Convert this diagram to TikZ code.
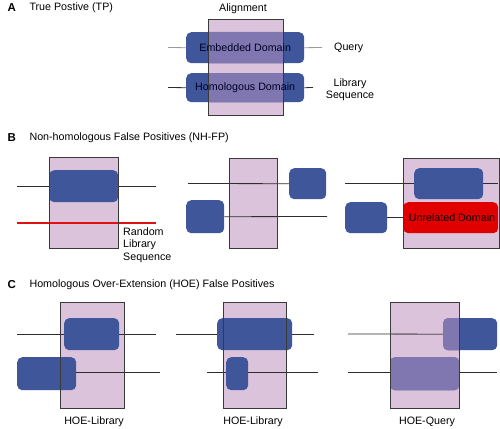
\documentclass[tikz,border=0pt]{standalone}
\usepackage{fontspec}
\setmainfont{Liberation Sans}
\definecolor{domblue}{HTML}{3F569B}
\definecolor{alnpink}{HTML}{DCC3DC}
\definecolor{mixpurple}{HTML}{8077B0}
\definecolor{domred}{HTML}{E00000}
\definecolor{randred}{HTML}{E01010}
\definecolor{bordergray}{HTML}{3A3A3A}
\definecolor{seqdark}{HTML}{2E2E2E}
\definecolor{seqlight}{HTML}{9A9A9A}
\definecolor{seqmix}{HTML}{8E7A8E}
\begin{document}
\begin{tikzpicture}[x=1pt,y=-1pt,
  font=\fontsize{10.7}{13}\selectfont,
  dom/.style={fill=domblue, rounded corners=5pt, inner sep=0pt, anchor=north west, draw=none},
  redbox/.style={fill=domred, rounded corners=5pt, inner sep=0pt, anchor=north west, draw=none},
  aln/.style={fill=alnpink, inner sep=0pt, anchor=north west, draw=none},
  border/.style={draw=bordergray, line width=0.8pt},
  seq/.style={draw=seqdark, line width=0.8pt},
  randseq/.style={fill=randred},
  head/.style={font=\fontsize{11.5}{13}\selectfont\bfseries, anchor=west},
  title/.style={anchor=west},
  lbl/.style={anchor=center}
]
\useasboundingbox[fill=white] (0,0) rectangle (500,428);

% ---------------- Panel A ----------------
\node[head] (hA) at (4,8) {A};
\node[title] (tA) at (26,8) {True Postive (TP)};
\node[aln, minimum width=75pt, minimum height=96pt] (rA) at (208,19) {};
\node[lbl] (alnA) at (243,9) {Alignment};
\coordinate (qAl) at (168,47.5);
\coordinate (qAr) at (322,47.5);
\coordinate (lAl) at (168,87.5);
\coordinate (lAr) at (313,87.5);
\node[dom, minimum width=118pt, minimum height=31pt] (eA) at (186,32) {};
\node[dom, minimum width=118pt, minimum height=29pt] (oA) at (186,73) {};
\draw[seq, draw=seqlight] (qAl) -- (eA.west);
\draw[seq, draw=seqlight] (eA.east) -- (qAr);
\draw[seq] (lAl) -- (oA.west);
\draw[seq] (oA.east) -- (lAr);
\begin{scope}
  \clip (rA.north west) rectangle (rA.south east);
  \fill[mixpurple, rounded corners=5pt] (eA.north west) rectangle (eA.south east);
  \fill[mixpurple, rounded corners=5pt] (oA.north west) rectangle (oA.south east);
\end{scope}
\draw[border] (rA.north west) rectangle (rA.south east);
\node[lbl, text=black!85!blue] (eAt) at (eA.center) {Embedded Domain};
\node[lbl, text=black!85!blue] (oAt) at (oA.center) {Homologous Domain};
\node[anchor=west, inner sep=0pt] (query) at (334,48) {Query};
\node[align=center, inner sep=0pt, font=\fontsize{10.7}{12}\selectfont] (libA) at (350,90) {Library\\Sequence};

% ---------------- Panel B ----------------
\node[head] (hB) at (4,138) {B};
\node[title] (tB) at (26,138) {Non-homologous False Positives (NH-FP)};

% B1
\node[aln, minimum width=69pt, minimum height=91pt] (rB1) at (49,157) {};
\coordinate (b1l) at (17,186);
\coordinate (b1r) at (156,186);
\coordinate (b1rl) at (17,223);
\coordinate (b1rr) at (156,223);
\draw[seq] (b1l) -- (b1r);
\node[dom, minimum width=69pt, minimum height=32pt] (bB1) at (49,170) {};
\fill[randseq] ([yshift=0.6pt]b1rl) rectangle ([yshift=-0.6pt]b1rr);
\draw[border] (rB1.north west) rectangle (rB1.south east);
\node[anchor=west, align=left, inner sep=0pt, font=\fontsize{10.7}{12.7}\selectfont] (randB) at (123,245) {Random\\Library\\Sequence};

% B2
\node[aln, minimum width=48pt, minimum height=90pt] (rB2) at (229,158) {};
\coordinate (b2tl) at (188,183.5);
\coordinate (b2br) at (327,216.5);
\node[dom, minimum width=37pt, minimum height=31pt] (tB2) at (289,168) {};
\node[dom, minimum width=38pt, minimum height=33pt] (bB2) at (186,200) {};
\draw[seq] (b2tl) -- (tB2.west);
\draw[seq] (bB2.east) -- (b2br);
\draw[border] (rB2.north west) rectangle (rB2.south east);

% B3
\node[aln, minimum width=96pt, minimum height=90pt] (rB3) at (403,158) {};
\coordinate (b3tl) at (345,183.5);
\coordinate (b3tr) at (498,183.5);
\draw[seq] (b3tl) -- (b3tr);
\node[dom, minimum width=69pt, minimum height=31pt] (tB3) at (414,168) {};
\node[dom, minimum width=42pt, minimum height=31pt] (bB3) at (345,202) {};
\node[redbox, minimum width=95pt, minimum height=31pt] (uB3) at (403,202) {};
\draw[seq] (bB3.east) -- (uB3.west);
\draw[border] (rB3.north west) rectangle (rB3.south east);
\node[lbl] (uB3t) at (452,217.5) {Unrelated Domain};

% ---------------- Panel C ----------------
\node[head] (hC) at (4,285) {C};
\node[title] (tC) at (26,285) {Homologous Over-Extension (HOE) False Positives};

% C1
\node[aln, minimum width=64pt, minimum height=106pt] (rC1) at (60,302) {};
\coordinate (c1tl) at (17,334);
\coordinate (c1tr) at (156,334);
\coordinate (c1br) at (160,372);
\draw[seq] (c1tl) -- (c1tr);
\node[dom, minimum width=55pt, minimum height=32pt] (tC1) at (64,318) {};
\node[dom, minimum width=59pt, minimum height=33pt] (bC1) at (17,357) {};
\draw[seq] (c1br -| bC1.east) -- (c1br);
\draw[border] (rC1.north west) rectangle (rC1.south east);
\node[lbl] (lC1) at (94,422) {HOE-Library};

% C2
\node[aln, minimum width=63pt, minimum height=106pt] (rC2) at (223,302) {};
\coordinate (c2tl) at (176,334);
\coordinate (c2tr) at (314,334);
\coordinate (c2bl) at (207,372);
\coordinate (c2br) at (318,372);
\draw[seq] (c2tl) -- (c2tr);
\draw[seq] (c2bl) -- (c2br);
\node[dom, minimum width=75pt, minimum height=32pt] (tC2) at (217,318) {};
\node[dom, minimum width=22pt, minimum height=33pt] (bC2) at (226,357) {};
\draw[border] (rC2.north west) rectangle (rC2.south east);
\node[lbl] (lC2) at (253,422) {HOE-Library};

% C3
\node[aln, minimum width=69pt, minimum height=106pt] (rC3) at (390,302) {};
\coordinate (c3tl) at (348,334);
\coordinate (c3bl) at (348,372);
\coordinate (c3br) at (497,372);
\draw[seq] (c3bl) -- (c3br);
\node[dom, minimum width=54pt, minimum height=32pt] (tC3) at (443,318) {};
\node[dom, minimum width=69pt, minimum height=33pt] (bC3) at (390,357) {};
\draw[seq] (c3tl) -- (tC3.west);
\begin{scope}
  \clip (rC3.north west) rectangle (rC3.south east);
  \fill[mixpurple, rounded corners=5pt] (tC3.north west) rectangle (tC3.south east);
  \fill[mixpurple, rounded corners=5pt] (bC3.north west) rectangle (bC3.south east);
  \draw[line width=0.8pt, draw=seqmix] (c3tl) -- (tC3.west);
\end{scope}
\draw[border] (rC3.north west) rectangle (rC3.south east);
\node[lbl] (lC3) at (427,422) {HOE-Query};
\end{tikzpicture}
\end{document}
